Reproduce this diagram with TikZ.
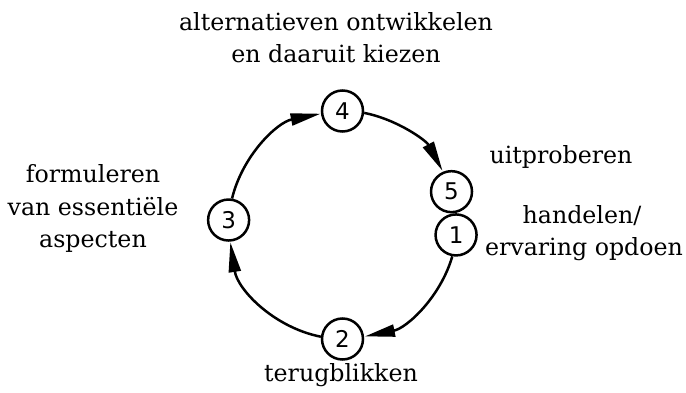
\documentclass[tikz,border=0pt]{standalone}
\usepackage{fontspec}
\setmainfont{DejaVu Serif}
\newfontfamily\numfont{DejaVu Sans}
\usetikzlibrary{arrows.meta}
\begin{document}
\begin{tikzpicture}[x=1pt,y=1pt,
  num/.style={circle,draw,line width=2.5pt,minimum size=41pt,inner sep=0pt,
    font=\numfont\fontsize{23}{23}\selectfont},
  lbl/.style={anchor=base,inner sep=0pt,font=\fontsize{23.7}{32}\selectfont},
  cyc/.style={line width=2.5pt,-{Triangle[length=30pt,width=12pt]}}]
\useasboundingbox (0,0) rectangle (686,392);
\coordinate (C) at (342.5,167);
% numbered nodes on the cycle
\node[num] (n4) at ([shift={(90:114)}]C) {4};
\node[num] (n5) at ([shift={(17:114)}]C) {5};
\node[num] (n1) at ([shift={(-5:114)}]C) {1};
\node[num] (n2) at ([shift={(-90:114)}]C) {2};
\node[num] (n3) at ([shift={(177.5:114)}]C) {3};
% connectors (arcs of the cycle)
\draw[cyc] (n1.-100.6) arc[start angle=-16.2, end angle=-78.8, radius=114];
\draw[cyc] (n2.174.4) arc[start angle=-101.2, end angle=-171.3, radius=114];
\draw[cyc] (n3.81.9) arc[start angle=166.3, end angle=101.2, radius=114];
\draw[cyc] (n4.-5.6) arc[start angle=78.8, end angle=28.2, radius=114];
% labels
\node[lbl] (t4a) at (336,361) {alternatieven ontwikkelen};
\node[lbl] (t4b) at (336,330) {en daaruit kiezen};
\node[lbl] (t3a) at (93,210) {formuleren};
\node[lbl] (t3b) at (93,177) {van essentiële};
\node[lbl] (t3c) at (93,145) {aspecten};
\node[lbl] (t5) at (561,229) {uitproberen};
\node[lbl] (t1a) at (582,169) {handelen/};
\node[lbl] (t1b) at (584,137) {ervaring opdoen};
\node[lbl] (t2) at (341,11) {terugblikken};
\end{tikzpicture}
\end{document}
